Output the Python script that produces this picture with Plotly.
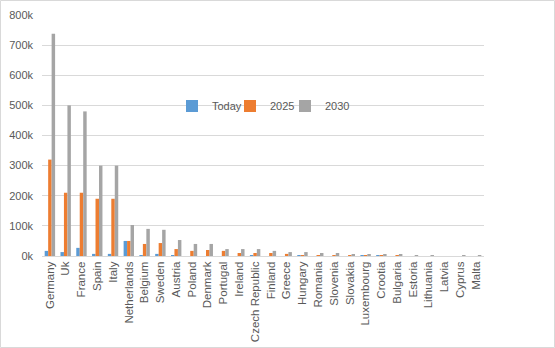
import plotly.graph_objects as go

countries = ["Germany", "Uk", "France", "Spain", "Italy", "Netherlands", "Belgium",
             "Sweden", "Austria", "Poland", "Denmark", "Portugal", "Ireland",
             "Czech Republic", "Finland", "Greece", "Hungary", "Romania", "Slovenia",
             "Slovakia", "Luxembourg", "Crootia", "Bulgaria", "Estoria", "Lithuania",
             "Latvia", "Cyprus", "Malta"]

today = [17000, 13000, 27000, 7000, 7000, 50000, 3000, 7000, 3000, 0, 0, 0, 0,
         3000, 0, 0, 3000, 0, 0, 0, 2000, 2000, 0, 0, 0, 0, 0, 0]
y2025 = [320000, 210000, 210000, 190000, 190000, 50000, 40000, 43000, 23000, 17000,
         20000, 17000, 10000, 10000, 10000, 7000, 3000, 3000, 3000, 2000, 2000, 2000,
         2000, 0, 0, 0, 0, 0]
y2030 = [738000, 500000, 480000, 300000, 300000, 103000, 90000, 87000, 53000, 40000,
         40000, 23000, 23000, 23000, 17000, 13000, 13000, 10000, 10000, 5000, 5000,
         5000, 5000, 2000, 2000, 0, 2000, 2000]

y_tickvals = [0, 100000, 200000, 300000, 400000, 500000, 600000, 700000, 800000]
y_ticktext = ["0k", "100k", "200k", "300k", "400k", "500k", "600k", "700k", "800k"]

series = [("Today", today, "#5B9BD5"), ("2025", y2025, "#ED7D31"), ("2030", y2030, "#A5A5A5")]

L, R, T, B = 42, 71, 15, 92
W, H = 555, 348
pw, ph = W - L - R, H - T - B

font = dict(family="Liberation Sans, Arial, sans-serif", size=11, color="#595959")
xfont = dict(family="Liberation Sans, Arial, sans-serif", size=11.5, color="#595959")

# legend text start positions (pixels) for the three entries
legend_text_px = [212, 270, 325]
legend_names = ["legend", "legend2", "legend3"]

fig = go.Figure()
for (name, vals, color), lg in zip(series, legend_names):
    fig.add_trace(go.Bar(x=countries, y=vals, name=name, marker_color=color,
                         marker_line_width=0, legend=lg))

legend_layouts = {}
for lg, tx in zip(legend_names, legend_text_px):
    legend_layouts[lg] = dict(orientation="h", x=(tx - 40 - L) / pw, xanchor="left",
                              y=(256 - 106) / ph, yanchor="middle",
                              bgcolor="rgba(0,0,0,0)", font=font, borderwidth=0)

fig.update_layout(
    width=W, height=H,
    margin=dict(l=L, r=R, t=T, b=B, pad=0, autoexpand=False),
    paper_bgcolor="white", plot_bgcolor="white",
    barmode="group", bargap=0.34, bargroupgap=0,
    font=font,
    showlegend=True,
    xaxis=dict(tickangle=-90, showgrid=False, showline=True, linecolor="#D9D9D9",
               linewidth=1, ticks="", tickfont=xfont, fixedrange=True,
               automargin=False),
    yaxis=dict(range=[0, 800000], tickvals=y_tickvals, ticktext=y_ticktext,
               showgrid=True, gridcolor="#D9D9D9", gridwidth=1, zeroline=False,
               showline=False, ticks="", tickfont=font, ticklabelstandoff=8,
               automargin=False),
    shapes=[dict(type="rect", xref="paper", yref="paper",
                 x0=(0.5 - L) / pw, x1=(W - 0.5 - L) / pw,
                 y0=(H - B - (H - 0.5)) / ph, y1=(H - B - 0.5) / ph,
                 line=dict(color="#D9D9D9", width=1), fillcolor="rgba(0,0,0,0)",
                 layer="below")],
    **legend_layouts,
)

fig.write_html("out.html")
